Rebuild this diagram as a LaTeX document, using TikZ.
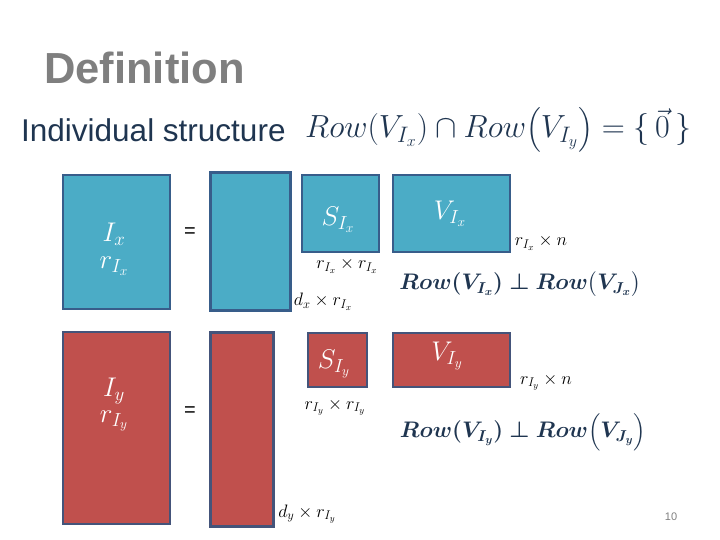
\RequirePackage{fix-cm}
\documentclass[tikz,border=0pt]{standalone}
\usepackage{amsmath}
\usepackage{bm}
\usepackage{fontspec}
\setmainfont{Liberation Sans}
\definecolor{boxblue}{HTML}{4BACC6}
\definecolor{boxred}{HTML}{C0504D}
\definecolor{edgeblue}{HTML}{385D8A}
\definecolor{edgered}{HTML}{44547A}
\definecolor{navy}{HTML}{1F3550}
\definecolor{titlegray}{HTML}{7F7F7F}
\tikzset{
  mbox/.style={draw, line width=2pt, inner sep=0pt, outer sep=0pt},
  bbox/.style={mbox, fill=boxblue, draw=edgeblue},
  rbox/.style={mbox, fill=boxred, draw=edgered},
  intext/.style={text=white, font=\fontsize{27}{31}\selectfont, inner sep=0pt},
  dimlabel/.style={text=black, font=\fontsize{18}{22}\selectfont, inner sep=0pt},
  eqsign/.style={text=black, font=\fontsize{20}{24}\selectfont, inner sep=0pt},
  boldrow/.style={text=navy, font=\fontsize{22.5}{27}\selectfont, inner sep=0pt}
}
\begin{document}
\begin{tikzpicture}[x=1pt,y=-1pt]
\useasboundingbox (0,0) rectangle (720,540);
% title
\node[text=titlegray, font=\fontsize{43.5}{50}\selectfont\bfseries, anchor=west, inner sep=0pt] (title) at (44,68) {Definition};
\node[text=navy, font=\fontsize{31.5}{36}\selectfont, anchor=west, inner sep=0pt] (sub) at (21,130) {Individual structure};
\node[text=navy, font=\fontsize{32}{36}\selectfont, anchor=west, inner sep=0pt] (cap) at (305,130)
  {$Row(V_{I_x})\cap Row\bigl(V_{I_y}\bigr)=\{\,\vec{0}\,\}$};
% blue row
\node[bbox, minimum width=107pt, minimum height=134pt] (ix) at (116.5,242) {};
\node[intext] (ixt) at (114,234) {$I_x$};
\node[intext] (rxt) at (114,266) {$r_{I_x}$};
\node[eqsign] (eqx) at (190,233) {=};
\node[bbox, line width=3pt, minimum width=80pt, minimum height=137pt] (ux) at (250,241.5) {};
\node[bbox, minimum width=77pt, minimum height=77pt] (sx) at (340.5,213.5) {};
\node[intext] (sxt) at (338,220) {$S_{I_x}$};
\node[dimlabel] (sxl) at (347,266) {$r_{I_x}\times r_{I_x}$};
\node[dimlabel] (uxl) at (323,302) {$d_x\times r_{I_x}$};
\node[bbox, minimum width=117pt, minimum height=77pt] (vx) at (451.5,213.5) {};
\node[intext] (vxt) at (450,214) {$V_{I_x}$};
\node[dimlabel] (vxl) at (541,243) {$r_{I_x}\times n$};
\node[boldrow] (px) at (520,284) {$\bm{Row(V_{I_x})\perp Row\bigl(V_{J_x}\bigr)}$};
% red row
\node[rbox, minimum width=107pt, minimum height=192pt] (iy) at (116.5,428) {};
\node[intext] (iyt) at (114,391) {$I_y$};
\node[intext] (ryt) at (114,421) {$r_{I_y}$};
\node[eqsign] (eqy) at (190,412) {=};
\node[rbox, line width=3pt, minimum width=63pt, minimum height=194pt] (uy) at (241.5,429) {};
\node[rbox, minimum width=59pt, minimum height=54pt] (sy) at (337.5,360) {};
\node[intext] (syt) at (334,364) {$S_{I_y}$};
\node[dimlabel] (syl) at (335,407) {$r_{I_y}\times r_{I_y}$};
\node[dimlabel] (uyl) at (307,514) {$d_y\times r_{I_y}$};
\node[rbox, minimum width=117pt, minimum height=54pt] (vy) at (451.5,360) {};
\node[intext] (vyt) at (447,356) {$V_{I_y}$};
\node[dimlabel] (vyl) at (546,382) {$r_{I_y}\times n$};
\node[boldrow] (py) at (523,432) {$\bm{Row(V_{I_y})\perp Row\Bigl(V_{J_y}\Bigr)}$};
% page number
\node[text=titlegray, font=\fontsize{11}{13}\selectfont, inner sep=0pt] (pg) at (671,517) {10};
\end{tikzpicture}
\end{document}
